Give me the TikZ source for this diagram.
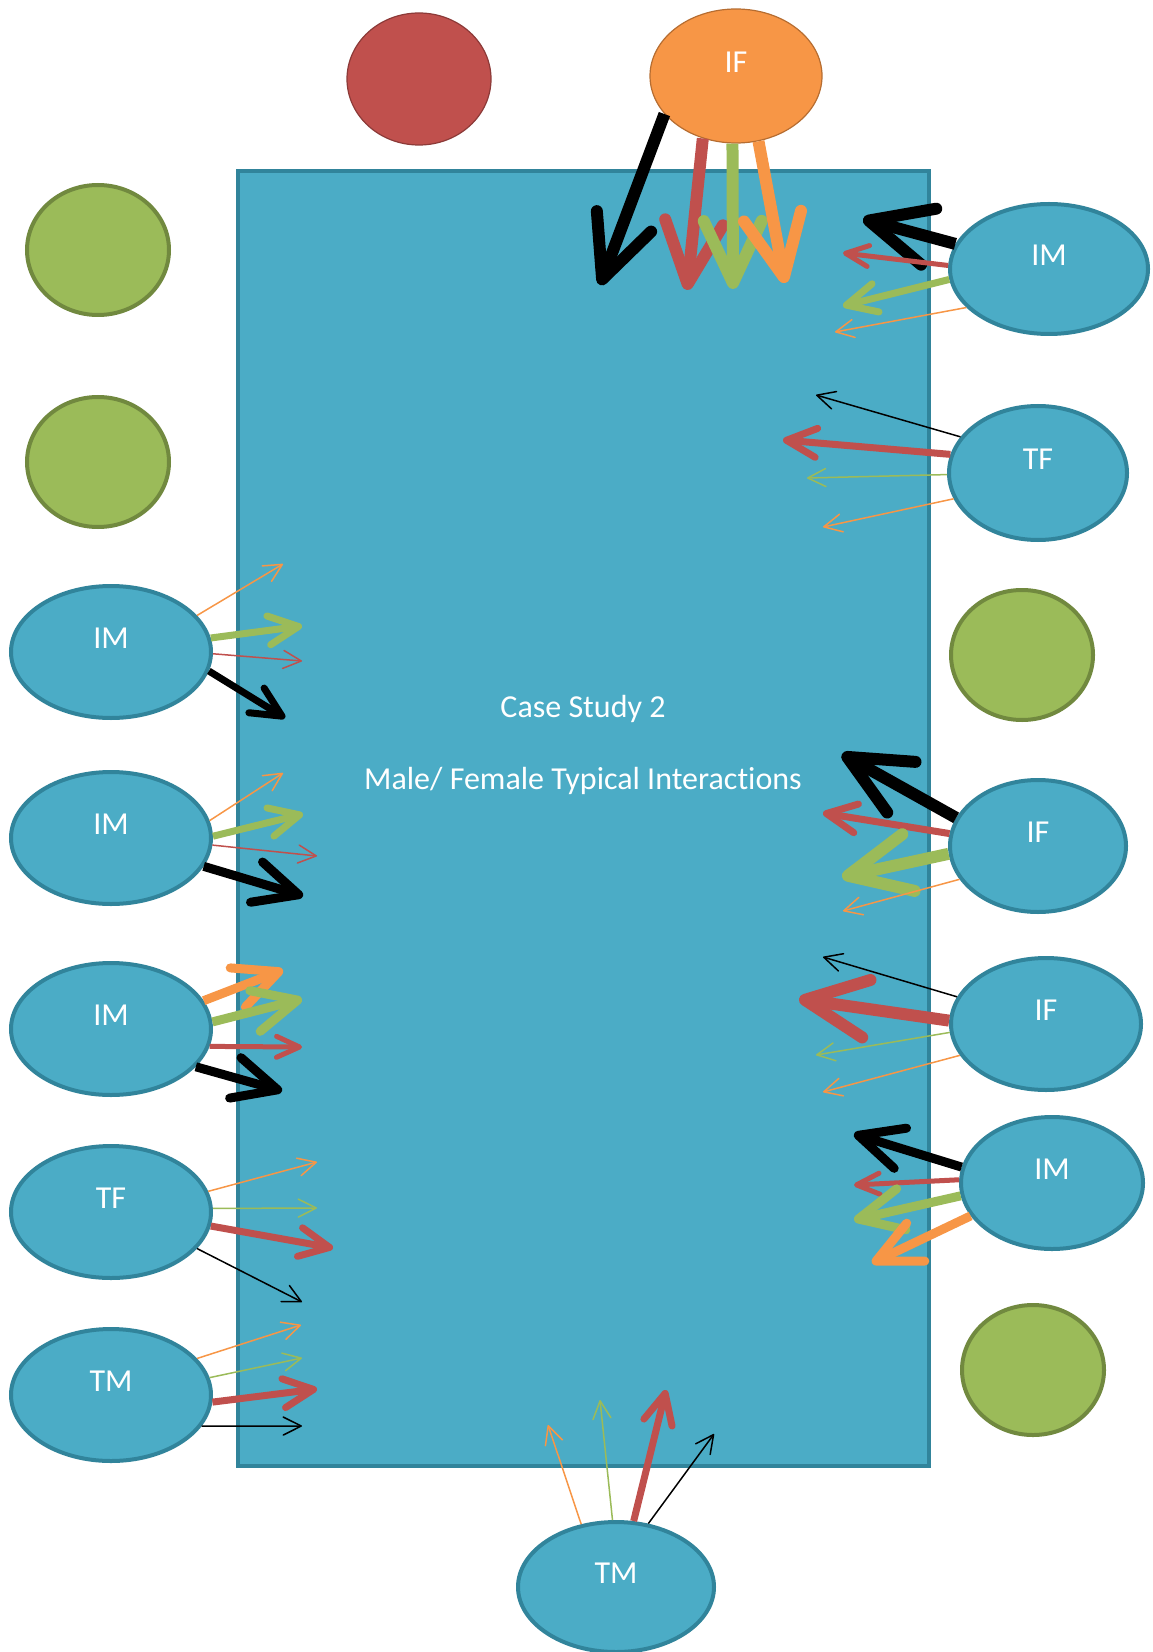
\documentclass[tikz,border=0pt]{standalone}
\usepackage{fontspec}
\setmainfont{Carlito}[RawFeature={-liga;-clig;-dlig;-calt}]
\usetikzlibrary{arrows.meta, shapes.geometric}

\definecolor{tblue}{HTML}{4BACC6}
\definecolor{tedge}{HTML}{31849B}
\definecolor{ared}{HTML}{C0504D}
\definecolor{redge}{HTML}{8C3A38}
\definecolor{agreen}{HTML}{9BBB59}
\definecolor{gedge}{HTML}{71893F}
\definecolor{aorange}{HTML}{F79646}
\definecolor{oedge}{HTML}{B66D31}

\tikzset{
    seat/.style={ellipse, draw=tedge, fill=tblue, line width=2pt, inner sep=0pt,
        minimum width=100pt, minimum height=66pt, text=white,
        font=\fontsize{16}{19}\selectfont, text height=11pt, text depth=14.7pt},
    spare/.style={ellipse, draw=gedge, fill=agreen, line width=2pt,
        minimum width=71pt, minimum height=65pt},
    words/.style={text=white, font=\fontsize{16}{19}\selectfont},
    thinarr/.style={line width=0.75pt, -{Straight Barb[round, length=9pt, width=9pt]}},
    midarr/.style={line width=2.5pt, -{Straight Barb[round, length=11.5pt, width=10.5pt]}},
    widearr/.style={line width=3.5pt, -{Straight Barb[round, length=15pt, width=14.5pt]}},
    bigarr/.style={line width=4.5pt, -{Straight Barb[round, length=22pt, width=21pt]}},
    heavyarr/.style={line width=6pt, -{Straight Barb[round, length=31pt, width=29pt]}}
}

\begin{document}
\begin{tikzpicture}[x=0.5pt, y=-0.5pt]
    \useasboundingbox (0, 0) rectangle (1152, 1652);
    \node[rectangle, draw=tedge, fill=tblue, line width=2pt, minimum width=345.5pt, minimum height=647.5pt] (tbl) at (583.5, 818.5) {};
    \node[words] (case) at (583, 709) {Case Study 2};
    \node[words] (title) at (583, 781) {Male/ Female Typical Interactions};

    \node[ellipse, draw=redge, fill=ared, line width=0.6pt, minimum width=72pt, minimum height=66pt] (host) at (419, 79) {};
    \node[seat, draw=oedge, fill=aorange, line width=0.6pt, minimum width=86pt, minimum height=67pt] (ifT) at (736, 76) {IF};
    \node[spare] (grnL1) at (98, 250) {};
    \node[spare] (grnL2) at (98, 462) {};
    \node[spare] (grnR1) at (1022, 655) {};
    \node[spare] (grnR2) at (1033, 1370) {};

    \node[seat, minimum width=99pt, minimum height=65pt] (imR1) at (1049, 269) {IM};
    \node[seat, minimum width=89pt, minimum height=67pt] (tfR) at (1038, 473) {TF};
    \node[seat, minimum width=88pt] (ifR1) at (1038, 846) {IF};
    \node[seat, minimum width=95pt] (ifR2) at (1046, 1024) {IF};
    \node[seat, minimum width=91pt] (imR2) at (1052, 1183) {IM};
    \node[seat] (imL1) at (111, 652) {IM};
    \node[seat] (imL2) at (111, 838) {IM};
    \node[seat] (imL3) at (111, 1029) {IM};
    \node[seat] (tfL) at (111, 1212) {TF};
    \node[seat] (tmL) at (111, 1395) {TM};
    \node[seat, minimum width=98pt, minimum height=65pt] (tmB) at (616, 1587) {TM};

    \coordinate (ifT-k) at (600, 285);
    \coordinate (ifT-r) at (687, 290);
    \coordinate (ifT-g) at (733, 289);
    \coordinate (ifT-o) at (785, 283);
    \coordinate (imR1-k) at (863, 219);
    \coordinate (imR1-r) at (843, 253);
    \coordinate (imR1-g) at (843, 306);
    \coordinate (imR1-o) at (835, 332);
    \coordinate (tfR-k) at (816, 395);
    \coordinate (tfR-r) at (783, 440);
    \coordinate (tfR-g) at (807, 478);
    \coordinate (tfR-o) at (823, 527);
    \coordinate (ifR1-k) at (842, 754);
    \coordinate (ifR1-r) at (823, 813);
    \coordinate (ifR1-g) at (842, 877);
    \coordinate (ifR1-o) at (843, 911);
    \coordinate (ifR2-k) at (823, 957);
    \coordinate (ifR2-r) at (799, 999);
    \coordinate (ifR2-g) at (816, 1055);
    \coordinate (ifR2-o) at (823, 1092);
    \coordinate (imR2-k) at (854, 1134);
    \coordinate (imR2-r) at (854, 1185);
    \coordinate (imR2-g) at (854, 1220);
    \coordinate (imR2-o) at (872, 1263);
    \coordinate (imL1-o) at (283, 564);
    \coordinate (imL1-g) at (302, 626);
    \coordinate (imL1-r) at (302, 661);
    \coordinate (imL1-k) at (285, 718);
    \coordinate (imL2-o) at (283, 773);
    \coordinate (imL2-g) at (303, 814);
    \coordinate (imL2-r) at (317, 856);
    \coordinate (imL2-k) at (303, 896);
    \coordinate (imL3-o) at (283, 970);
    \coordinate (imL3-g) at (302, 999);
    \coordinate (imL3-r) at (302, 1047);
    \coordinate (imL3-k) at (282, 1091);
    \coordinate (tfL-o) at (317, 1162);
    \coordinate (tfL-g) at (317, 1208);
    \coordinate (tfL-r) at (333, 1248);
    \coordinate (tfL-k) at (302, 1302);
    \coordinate (tmL-o) at (301, 1325);
    \coordinate (tmL-g) at (302, 1358);
    \coordinate (tmL-r) at (317, 1389);
    \coordinate (tmL-k) at (302, 1426);
    \coordinate (tmB-o) at (548, 1425);
    \coordinate (tmB-g) at (600, 1400);
    \coordinate (tmB-r) at (666, 1390);
    \coordinate (tmB-k) at (714, 1434);

    \draw[heavyarr] (ifT.208) -- (ifT-k);
    \draw[heavyarr, ared] (ifT.242) -- (ifT-r);
    \draw[heavyarr, agreen] (ifT.267) -- (ifT-g);
    \draw[heavyarr, aorange] (ifT.289) -- (ifT-o);

    \draw[heavyarr] (imR1.165) -- (imR1-k);
    \draw[midarr, ared] (imR1.178) -- (imR1-r);
    \draw[widearr, agreen] (imR1.186) -- (imR1-g);
    \draw[thinarr, aorange] (imR1.205) -- (imR1-o);

    \draw[thinarr] (tfR.155) -- (tfR-k);
    \draw[widearr, ared] (tfR.168) -- (tfR-r);
    \draw[thinarr, agreen] (tfR.181) -- (tfR-g);
    \draw[thinarr, aorange] (tfR.197) -- (tfR-o);

    \draw[heavyarr] (ifR1.161) -- (ifR1-k);
    \draw[widearr, ared] (ifR1.172) -- (ifR1-r);
    \draw[heavyarr, agreen] (ifR1.185) -- (ifR1-g);
    \draw[thinarr, aorange] (ifR1.203) -- (ifR1-o);

    \draw[thinarr] (ifR2.163) -- (ifR2-k);
    \draw[heavyarr, ared] (ifR2.178) -- (ifR2-r);
    \draw[thinarr, agreen] (ifR2.185) -- (ifR2-g);
    \draw[thinarr, aorange] (ifR2.200) -- (ifR2-o);

    \draw[bigarr] (imR2.170) -- (imR2-k);
    \draw[midarr, ared] (imR2.178) -- (imR2-r);
    \draw[bigarr, agreen] (imR2.188) -- (imR2-g);
    \draw[bigarr, aorange] (imR2.202) -- (imR2-o);

    \draw[thinarr, aorange] (imL1.23) -- (imL1-o);
    \draw[widearr, agreen] (imL1.8) -- (imL1-g);
    \draw[thinarr, ared] (imL1.359) -- (imL1-r);
    \draw[widearr] (imL1.349) -- (imL1-k);

    \draw[thinarr, aorange] (imL2.10) -- (imL2-o);
    \draw[widearr, agreen] (imL2.1) -- (imL2-g);
    \draw[thinarr, ared] (imL2.356) -- (imL2-r);
    \draw[bigarr] (imL2.343) -- (imL2-k);

    \draw[bigarr, aorange] (imL3.17) -- (imL3-o);
    \draw[bigarr, agreen] (imL3.4) -- (imL3-g);
    \draw[midarr, ared] (imL3.350) -- (imL3-r);
    \draw[bigarr] (imL3.336) -- (imL3-k);

    \draw[thinarr, aorange] (tfL.12) -- (tfL-o);
    \draw[thinarr, agreen] (tfL.2) -- (tfL-g);
    \draw[widearr, ared] (tfL.352) -- (tfL-r);
    \draw[thinarr] (tfL.337) -- (tfL-k);

    \draw[thinarr, aorange] (tmL.23) -- (tmL-o);
    \draw[thinarr, agreen] (tmL.10) -- (tmL-g);
    \draw[widearr, ared] (tmL.356) -- (tmL-r);
    \draw[thinarr] (tmL.341) -- (tmL-k);

    \draw[thinarr, aorange] (tmB.119) -- (tmB-o);
    \draw[thinarr, agreen] (tmB.93) -- (tmB-g);
    \draw[widearr, ared] (tmB.75) -- (tmB-r);
    \draw[thinarr] (tmB.63) -- (tmB-k);
\end{tikzpicture}
\end{document}
